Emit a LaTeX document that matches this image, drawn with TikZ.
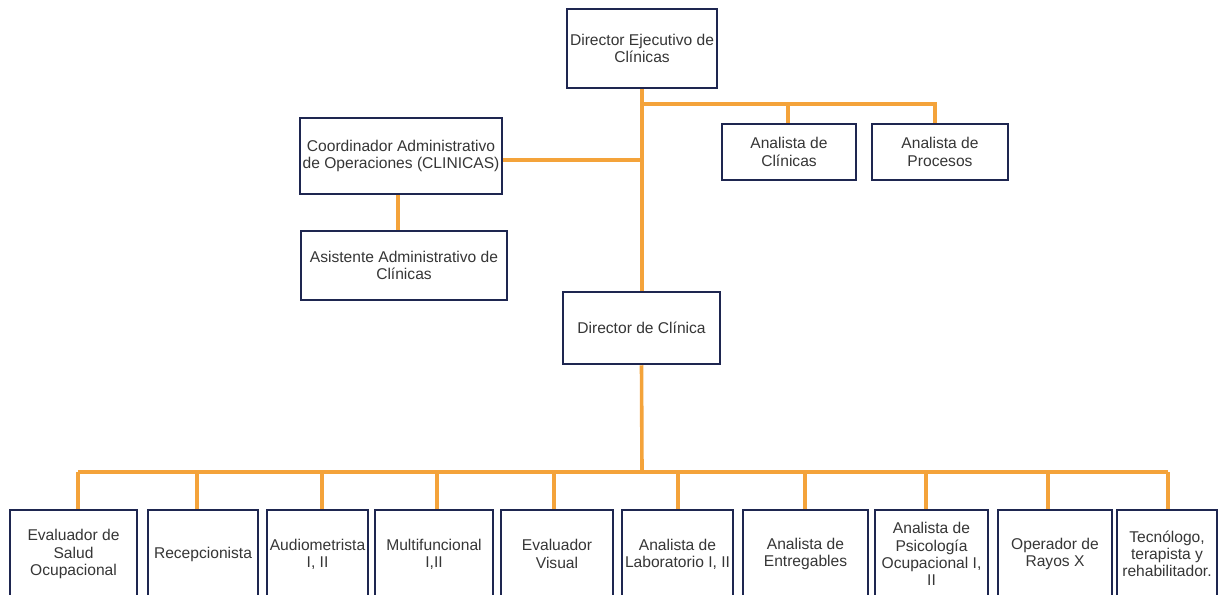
\documentclass[tikz,border=0pt]{standalone}
\usepackage{fontspec}
\setmainfont{Liberation Sans}
\usetikzlibrary{backgrounds}
\definecolor{orgline}{HTML}{F4A33A}
\definecolor{navybox}{HTML}{1E2650}
\definecolor{txtgray}{HTML}{363636}
\tikzset{
  bx/.style={draw=navybox, line width=2.5pt, fill=white, align=center, inner sep=0pt,
    text=txtgray, font=\fontsize{15.6}{17.2}\selectfont},
  conn/.style={draw=orgline, line width=3.6pt}
}
\begin{document}
\begin{tikzpicture}[x=1pt,y=-1pt]
\useasboundingbox (0,0) rectangle (1225,594);
% upper part
\node[bx, minimum width=150pt, minimum height=79pt] (dej) at (642,48.5) {Director Ejecutivo de\\Clínicas};
\node[bx, minimum width=134pt, minimum height=56pt] (acl) at (789,152) {Analista de\\Clínicas};
\node[bx, minimum width=136pt, minimum height=56pt] (apr) at (940,152) {Analista de\\Procesos};
\node[bx, minimum width=202pt, minimum height=76pt] (coo) at (401,156) {Coordinador Administrativo\\de Operaciones (CLINICAS)};
\node[bx, minimum width=206pt, minimum height=69pt] (asi) at (404,265.5) {Asistente Administrativo de\\Clínicas};
\node[bx, minimum width=157pt, minimum height=72pt] (dcl) at (641.5,328) {Director de Clínica};
% bottom row
\node[bx, minimum width=127pt, minimum height=88pt] (b1) at (73.5,554) {Evaluador de\\Salud\\Ocupacional};
\node[bx, minimum width=110pt, minimum height=88pt] (b2) at (203,554) {Recepcionista};
\node[bx, minimum width=101pt, minimum height=88pt] (b3) at (317.5,554) {Audiometrista\\I, II};
\node[bx, minimum width=118pt, minimum height=88pt] (b4) at (434,554) {Multifuncional\\I,II};
\node[bx, minimum width=112pt, minimum height=88pt] (b5) at (557,554) {Evaluador\\Visual};
\node[bx, minimum width=111pt, minimum height=88pt] (b6) at (677.5,554) {Analista de\\Laboratorio I, II};
\node[bx, minimum width=125pt, minimum height=88pt] (b7) at (805.5,554) {Analista de\\Entregables};
\node[bx, minimum width=113pt, minimum height=88pt] (b8) at (931.5,554) {Analista de\\Psicología\\Ocupacional I,\\II};
\node[bx, minimum width=114pt, minimum height=88pt] (b9) at (1055,554) {Operador de\\Rayos X};
\node[bx, minimum width=100pt, minimum height=88pt] (b10) at (1167,554) {Tecnólogo,\\terapista y\\rehabilitador.};
% junction coordinates
\coordinate (t1) at (642,104);
\coordinate (t2) at (642,160);
\coordinate (ja) at (788,104);
\coordinate (jp) at (935,104);
\coordinate (jc) at (398,194);
\coordinate (bar) at (642,472);
\coordinate (d1) at (78,472);
\coordinate (d2) at (197,472);
\coordinate (d3) at (322,472);
\coordinate (d4) at (437,472);
\coordinate (d5) at (554,472);
\coordinate (d6) at (678,472);
\coordinate (d7) at (805,472);
\coordinate (d8) at (926,472);
\coordinate (d9) at (1048,472);
\coordinate (d10) at (1168,472);
\begin{scope}[on background layer]
\draw[conn] (dej.south) -- (dej.south |- dcl.north);
\draw[conn] (t1) -- (jp) -- (jp |- apr.north);
\draw[conn] (ja) -- (ja |- acl.north);
\draw[conn] (t2) -- (t2 -| coo.east);
\draw[conn] (jc) -- (jc |- asi.north);
\draw[conn] (dcl.south) -- (bar);
\draw[conn] (d1) -- (d10);
\foreach \i in {1,...,10} { \draw[conn] (d\i) -- (d\i |- b\i.north); }
\end{scope}
\end{tikzpicture}
\end{document}
